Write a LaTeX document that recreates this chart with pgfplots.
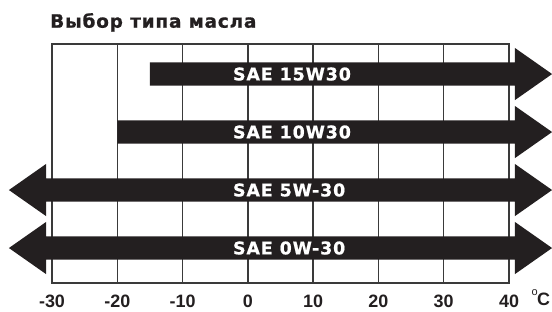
\documentclass[border=0pt]{standalone}
\usepackage{pgfplots}
\pgfplotsset{compat=1.18}
\usepackage{fontspec}
\setmainfont{Liberation Sans}
\newfontfamily\arb{Liberation Sans Bold}
\newfontfamily\verdt{DejaVu Sans Bold}[LetterSpace=4.5, FakeBold=0.8]
\newfontfamily\verdb{DejaVu Sans Bold}[LetterSpace=5, FakeBold=0.8]
\definecolor{ink}{HTML}{231F20}
\definecolor{gridc}{HTML}{3A3A3A}
\begin{document}
\begin{tikzpicture}
\begin{axis}[
  name=ax,
  scale only axis, width=457bp, height=239bp,
  xmin=-30, xmax=40, ymin=0.397, ymax=4.518,
  xtick={-30,-20,-10,0,10,20,30,40},
  xticklabels={-30,-20,-10,0,10,20,30,40},
  ytick=\empty,
  xmajorgrids, grid style={gridc, line width=1.3bp},
  axis line style={gridc, line width=1.3bp},
  major tick length=0pt,
  xticklabel style={font=\arb\fontsize{18}{18}\selectfont, text=ink, inner sep=0pt, anchor=north, yshift=-12bp},
  clip=false,
]
% SAE 15W30: from -15 upward
\addplot[fill=ink, draw=none] coordinates {(-15,3.8) (40.9,3.8) (40.9,3.55) (46.6,4) (40.9,4.45) (40.9,4.2) (-15,4.2)} --cycle;
% SAE 10W30: from -20 upward
\addplot[fill=ink, draw=none] coordinates {(-20,2.8) (40.9,2.8) (40.9,2.55) (46.6,3) (40.9,3.45) (40.9,3.2) (-20,3.2)} --cycle;
% SAE 5W-30: both directions
\addplot[fill=ink, draw=none] coordinates {(-36.6,2) (-30.9,2.45) (-30.9,2.2) (40.9,2.2) (40.9,2.45) (46.6,2) (40.9,1.55) (40.9,1.8) (-30.9,1.8) (-30.9,1.55)} --cycle;
% SAE 0W-30: both directions
\addplot[fill=ink, draw=none] coordinates {(-36.6,1) (-30.9,1.45) (-30.9,1.2) (40.9,1.2) (40.9,1.45) (46.6,1) (40.9,0.55) (40.9,0.8) (-30.9,0.8) (-30.9,0.55)} --cycle;
\node[anchor=west, inner sep=0pt, text=white, font=\verdb\fontsize{17.5}{17.5}\selectfont] at (axis cs:-2.3,4) {SAE 15W30};
\node[anchor=west, inner sep=0pt, text=white, font=\verdb\fontsize{17.5}{17.5}\selectfont] at (axis cs:-2.3,3) {SAE 10W30};
\node[anchor=west, inner sep=0pt, text=white, font=\verdb\fontsize{17.5}{17.5}\selectfont] at (axis cs:-2.3,2) {SAE 5W-30};
\node[anchor=west, inner sep=0pt, text=white, font=\verdb\fontsize{17.5}{17.5}\selectfont] at (axis cs:-2.3,1) {SAE 0W-30};
\end{axis}
\node[anchor=base west, inner sep=0pt, font=\verdt\fontsize{18.5}{18.5}\selectfont, text=ink] at ([shift={(-2bp,16.3bp)}]ax.north west) {Выбор типа масла};
\node[anchor=base west, inner sep=0pt, font=\arb\fontsize{18}{18}\selectfont, text=ink] at ([shift={(28bp,-22bp)}]ax.south east) {C};
\node[anchor=base west, inner sep=0pt, font=\fontsize{11}{11}\selectfont, text=ink] at ([shift={(22.5bp,-12bp)}]ax.south east) {o};
\pgfresetboundingbox
\path[use as bounding box] ([shift={(-52bp,-29bp)}]ax.south west) rectangle ([shift={(43bp,44bp)}]ax.north east);
\end{tikzpicture}
\end{document}
